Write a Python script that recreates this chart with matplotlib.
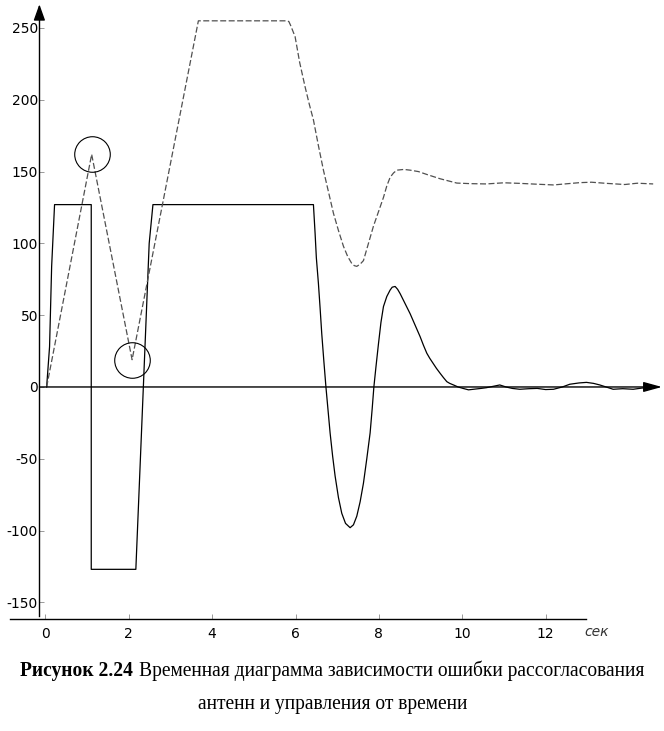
import matplotlib
matplotlib.use("Agg")
import matplotlib.pyplot as plt

# управление (сплошная линия)
t_u = [0.03, 0.10, 0.15, 0.22, 1.10, 1.10, 2.17, 2.35, 2.49, 2.58,
       6.43, 6.47, 6.50, 6.55, 6.59, 6.63, 6.68, 6.73, 6.78, 6.83,
       6.89, 6.95, 7.03, 7.11, 7.20, 7.31, 7.39, 7.47, 7.55, 7.63,
       7.71, 7.79, 7.84, 7.88, 7.93, 7.99, 8.05, 8.11, 8.19, 8.27,
       8.32, 8.39, 8.45, 8.51, 8.63, 8.75, 8.87, 8.99, 9.07, 9.15,
       9.22, 9.30, 9.38, 9.47, 9.55, 9.63, 9.70, 9.79, 9.90, 10.02,
       10.15, 10.30, 10.45, 10.58, 10.75, 10.90, 11.05, 11.20, 11.38, 11.60,
       11.80, 12.00, 12.19, 12.40, 12.58, 12.80, 12.98, 13.15, 13.30, 13.45,
       13.62, 13.85, 14.10, 14.30, 14.50]
u = [0, 28, 84, 127, 127, -127, -127, 0, 100, 127,
     127, 107, 90, 72, 55, 37, 18, 0, -16, -32,
     -48, -62, -77, -88, -95, -98, -96, -90, -80, -67,
     -50, -32, -15, 0, 14, 30, 45, 56, 63, 67.5,
     69.5, 70, 68, 65, 58, 51, 43, 35, 29, 23.5,
     20, 16.5, 13, 9.5, 6.5, 3.7, 2.5, 1.4, 0, -1,
     -2, -1.5, -1, -0.5, 0.5, 1.4, 0, -1, -1.6, -1.2,
     -1, -1.8, -1.6, 0, 1.9, 2.8, 3.2, 2.5, 1.4, 0,
     -1.6, -1.2, -1.6, -0.8, -0.2]

# ошибка рассогласования (пунктир)
t_e = [0.03, 1.11, 2.08, 3.67, 5.79, 5.84, 5.88, 5.99, 6.10, 6.23,
       6.33, 6.43, 6.55, 6.67, 6.79, 6.91, 7.03, 7.15, 7.25, 7.35,
       7.41, 7.47, 7.55, 7.63, 7.75, 7.87, 7.99, 8.11, 8.19, 8.27,
       8.35, 8.43, 8.60, 8.75, 8.95, 9.15, 9.47, 9.87, 10.20, 10.58,
       11.00, 11.38, 11.80, 12.19, 12.50, 12.82, 13.10, 13.46, 13.90, 14.20,
       14.58]
e = [0, 162, 19, 255, 255, 254.5, 252, 244, 226, 209,
     197, 186, 168, 151, 136, 121, 109, 98, 91, 86,
     84.5, 84, 85.5, 88, 100, 112, 122, 132, 140, 146,
     149, 151, 151.5, 151, 150, 148, 145, 142, 141.6, 141.4,
     142.2, 141.8, 141.2, 140.7, 141.5, 142.3, 142.6, 141.8, 141.0, 141.9,
     141.4]

x_ticks = [0, 2, 4, 6, 8, 10, 12]
y_ticks = [-150, -100, -50, 0, 50, 100, 150, 200, 250]

plt.rcParams['lines.scale_dashes'] = False
plt.rcParams['axes.unicode_minus'] = False

W, H = 664, 731
fig = plt.figure(figsize=(W / 100, H / 100), dpi=100)
ax = fig.add_axes([10 / W, (H - 619.3) / H, 654 / W, 619.3 / H])
ax.set_xlim(-0.849, 14.84)
ax.set_ylim(-161.8, 269.5)
ax.patch.set_visible(False)

ax.plot(t_u, u, color="black", lw=0.9)
ax.plot(t_e, e, color="#505050", lw=0.9, dashes=(4.3, 1.8))

# кружки на экстремумах ошибки
for i in (1, 2):
    ax.plot(t_e[i], e[i], "o", ms=25.6, mfc="none", mec="black", mew=0.8)

x_axis0 = -0.144
ax.spines["top"].set_visible(False)
ax.spines["right"].set_visible(False)
ax.spines["left"].set_position(("data", x_axis0))
ax.spines["left"].set_bounds(-159.5, 262)
ax.spines["bottom"].set_bounds(-0.849, 12.97)
for s in ("left", "bottom"):
    ax.spines[s].set_linewidth(1.0)

ax.set_xticks(x_ticks)
ax.set_yticks(y_ticks)
ax.tick_params(axis="both", direction="in", length=3.6, width=0.7,
               color="#999999", labelsize=10)
ax.tick_params(axis="y", pad=1.0)
ax.tick_params(axis="x", pad=5.5)

# стрелки осей
ax.annotate("", xy=(x_axis0, 266.5), xytext=(x_axis0, 258),
            arrowprops=dict(arrowstyle="-|>,head_length=0.7,head_width=0.25",
                            color="black", lw=1, shrinkA=0, shrinkB=0,
                            mutation_scale=14))
ax.annotate("", xy=(14.79, 0), xytext=(x_axis0, 0),
            arrowprops=dict(arrowstyle="-|>,head_length=0.8,head_width=0.22",
                            color="black", lw=1, shrinkA=0, shrinkB=0,
                            mutation_scale=14))

fig.text(584 / W, (H - 632) / H, "сек", style="italic", fontsize=10,
         color="#333333", va="center", ha="left")

# подпись
serif = "Liberation Serif"
fs = 15
r = fig.canvas.get_renderer()
tb = fig.text(0, (H - 676) / H, "Рисунок 2.24", family=serif, weight="bold",
              fontsize=fs, va="baseline")
tr = fig.text(0, (H - 676) / H, "Временная диаграмма зависимости ошибки рассогласования",
              family=serif, fontsize=fs, va="baseline")
wb = tb.get_window_extent(r).width
wr = tr.get_window_extent(r).width
gap = 6
target = 625.0
k = target / (wb + gap + wr)
fs2 = fs * k
tb.set_fontsize(fs2)
tr.set_fontsize(fs2)
wb = tb.get_window_extent(r).width
wr = tr.get_window_extent(r).width
x0 = (W - (wb + gap + wr)) / 2
tb.set_x(x0 / W)
tr.set_x((x0 + wb + gap) / W)
fig.text(333 / W, (H - 709) / H, "антенн и управления от времени",
         family=serif, fontsize=fs2, va="baseline", ha="center")

fig.savefig("out.png", dpi=100)
